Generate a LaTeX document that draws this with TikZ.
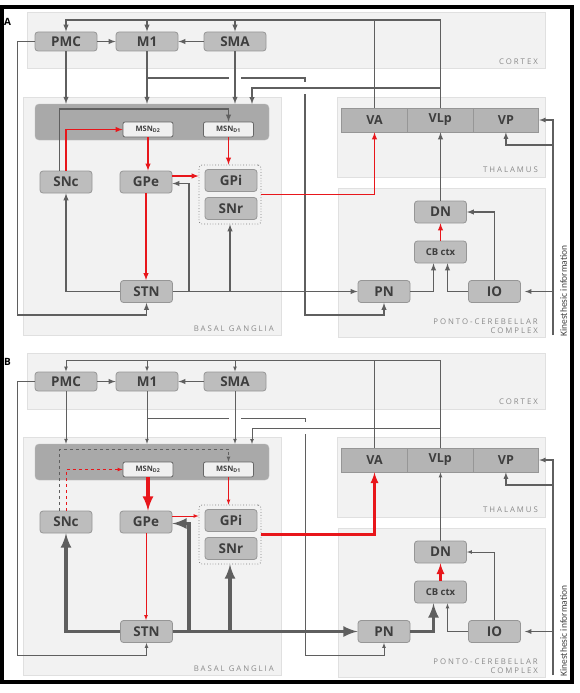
\documentclass[tikz,border=0pt]{standalone}
\usepackage{fontspec}
\setmainfont{Open Sans}
\newfontfamily\kinfont{Carlito}
\newfontfamily\regfont[LetterSpace=25]{Open Sans}
\usetikzlibrary{arrows}

\definecolor{linegray}{HTML}{5F5F5F}
\definecolor{nucred}{HTML}{E8161B}
\definecolor{nucfill}{HTML}{BDBDBD}
\definecolor{nucdraw}{HTML}{969696}
\definecolor{thalfill}{HTML}{B4B4B4}
\definecolor{regfill}{HTML}{F2F2F2}
\definecolor{regdraw}{HTML}{E0E0E0}
\definecolor{strfill}{HTML}{A9A9A9}
\definecolor{txtgray}{HTML}{3E3E3E}
\definecolor{labgray}{HTML}{8A8A8A}

\tikzset{
	nucleus/.style={rectangle, rounded corners=3pt, fill=nucfill, draw=nucdraw,
		line width=0.8pt, minimum width=52pt, minimum height=22pt, inner sep=0pt,
		text=txtgray, font=\fontsize{13.5}{14}\selectfont\bfseries},
	thal/.style={nucleus, rounded corners=0pt, fill=thalfill, minimum width=65.7pt,
		minimum height=24pt, font=\fontsize{12.5}{13}\selectfont\bfseries},
	msn/.style={rectangle, rounded corners=2pt, fill=gray!12, draw=gray!80!black,
		line width=0.8pt, minimum width=50pt, minimum height=15pt, inner sep=0pt,
		text=txtgray, font=\fontsize{7.5}{8}\selectfont\bfseries},
	region/.style={fill=regfill, draw=regdraw, line width=1pt},
	regionlabel/.style={anchor=east, text=labgray, inner sep=0pt,
		font=\regfont\fontsize{7.8}{8.5}\selectfont},
	gline/.style={draw=linegray, ->},
	rline/.style={draw=nucred, ->},
}

\begin{document}
\begin{tikzpicture}[x=1pt, y=-1pt, >=latex]

\useasboundingbox (0,0) rectangle (579,693);

\foreach \pan/\dy/\wlo/\whi/\wva/\dopa in {A/0/1.4/1.4/1.4/solid, B/340/0.7/3.8/2.6/dashed}{
\begin{scope}[shift={(0,\dy)}]

% regions
\draw[region] (27,13) rectangle (545,69);
\draw[region] (23,97) rectangle (281,335);
\draw[region] (337,97) rectangle (545,177);
\draw[region] (338,188) rectangle (545,337);
\node[regionlabel] at (538,62) {CORTEX};
\node[regionlabel] at (274,329) {BASAL GANGLIA};
\node[regionlabel] at (538,170) {THALAMUS};
\node[regionlabel, align=right] at (538,326) {PONTO-CEREBELLAR\\COMPLEX};

\node[font=\fontsize{10}{12}\selectfont\bfseries] at (7.5,22) {\pan};

% nuclei
\node[nucleus, minimum width=62pt, minimum height=19pt] (pmc\pan) at (66,41.5) {PMC};
\node[nucleus, minimum width=62pt, minimum height=19pt] (m1\pan) at (147,41.5) {M1};
\node[nucleus, minimum width=62pt, minimum height=19pt] (sma\pan) at (235,41.5) {SMA};

\node[rectangle, rounded corners=4pt, fill=strfill, draw=gray!55, minimum width=234pt,
	minimum height=36pt] (str\pan) at (152,122) {};
\node[msn] (dtwo\pan) at (148,129.5) {MSN\textsubscript{D2}};
\node[msn] (done\pan) at (228.5,129.5) {MSN\textsubscript{D1}};

\node[nucleus] (snc\pan) at (66,182) {SNc};
\node[nucleus] (gpe\pan) at (146,182) {GPe};
\node[draw=gray, dotted, line width=0.8pt, rounded corners=3pt, minimum width=62pt,
	minimum height=59pt] (out\pan) at (230,194.5) {};
\node[nucleus] (gpi\pan) at (231,180.5) {GPi};
\node[nucleus] (snr\pan) at (231,208.5) {SNr};
\node[nucleus] (stn\pan) at (146.5,291.5) {STN};

\node[thal] (va\pan) at (374.5,120) {VA};
\node[thal] (vlp\pan) at (440.2,120) {VLp};
\node[thal] (vp\pan) at (505.9,120) {VP};

\node[nucleus] (dn\pan) at (440.5,212) {DN};
\node[nucleus, font=\fontsize{9.5}{10}\selectfont\bfseries] (cb\pan) at (440.5,252) {CB ctx};
\node[nucleus] (pn\pan) at (384,291.5) {PN};
\node[nucleus] (io\pan) at (494.5,291.5) {IO};

\coordinate (top\pan) at (0,20);
\coordinate (cx\pan) at (0,78);
\coordinate (th\pan) at (0,88);
\coordinate (sd\pan) at (0,109);
\coordinate (sa\pan) at (252,104);
\coordinate (vk\pan) at (0,145);
\coordinate (hy\pan) at (0,315);
\coordinate (kin\pan) at (553,335);

% cortex
\draw[gline, line width=1.4pt] (pmc\pan.east) -- (m1\pan.west);
\draw[gline, line width=1.4pt] (sma\pan.west) -- (m1\pan.east);
\draw[gline, line width=\wlo pt] (m1\pan.south |- cx\pan) -- ++(158,0)
	|- (pn\pan.south |- hy\pan) -- (pn\pan.south);
\fill[white] (229,75) rectangle (241,81);
\fill[white] (301,82) rectangle (309,94);
\foreach \n in {pmc,m1,sma}
	\draw[gline, line width=\wlo pt] (\n\pan.south) -- (\n\pan.south |- str\pan.north);

% thalamus to cortex and striatum
\draw[gline, line width=\wlo pt] (vlp\pan.north) -- (vlp\pan.north |- top\pan) -| (pmc\pan.north);
\draw[gline, line width=\wlo pt] (m1\pan.north |- top\pan) -- (m1\pan.north);
\draw[gline, line width=\wlo pt] (sma\pan.north |- top\pan) -- (sma\pan.north);
\draw[draw=linegray, line width=\wlo pt] (va\pan.north) -- (va\pan.north |- top\pan);
\draw[gline, line width=\wlo pt] (vlp\pan.north |- th\pan) -| (sa\pan);

% basal ganglia
\draw[gline, \dopa, line width=\wlo pt] ([xshift=-6.5pt]snc\pan.north) |- (done\pan.north |- sd\pan)
	-- (done\pan.north);
\draw[rline, \dopa, line width=\wlo pt] (snc\pan.north) |- (dtwo\pan.west);
\draw[rline, line width=\whi pt] (dtwo\pan.south) -- (dtwo\pan.south |- gpe\pan.north);
\draw[rline, line width=\wlo pt] (done\pan.south) -- (done\pan.south |- out\pan.north);
\draw[rline, line width=\wlo pt] ([yshift=6pt]gpe\pan.east) -- ([yshift=6pt]gpe\pan.east -| out\pan.west);
\draw[rline, line width=\wlo pt] (gpe\pan.south) -- (gpe\pan.south |- stn\pan.north);
\draw[gline, line width=\whi pt] (stn\pan.west) -| (snc\pan.south);
\draw[gline, line width=\whi pt] (stn\pan.east) -- ++(16,0) |- ([yshift=-1.5pt]gpe\pan.east);
\draw[gline, line width=\whi pt] (stn\pan.east -| out\pan.south) -- (out\pan.south);
\draw[gline, line width=\whi pt] (stn\pan.east) -- (pn\pan.west);
\draw[gline, line width=\wlo pt] (pmc\pan.west) -- ++(-17,0) |- (stn\pan.south |- hy\pan)
	-- (stn\pan.south);
\draw[rline, line width=\wva pt] (out\pan.east) -| (va\pan.south);

% ponto-cerebellar
\draw[gline, line width=\wlo pt] (dn\pan.north) -- (dn\pan.north |- vlp\pan.south);
\draw[rline, line width=\wva pt] (cb\pan.north) -- (dn\pan.south);
\draw[gline, line width=\whi pt] (pn\pan.east) -| ([xshift=-7pt]cb\pan.south);
\draw[gline, line width=\wlo pt] (io\pan.west) -| ([xshift=7pt]cb\pan.south);
\draw[gline, line width=\wlo pt] (io\pan.north) |- (dn\pan.east);

% kinesthesic input
\draw[gline, line width=1.2pt] (kin\pan) |- (vp\pan.east);
\draw[gline, line width=1.2pt] (kin\pan |- vk\pan) -| (vp\pan.south);
\draw[gline, line width=1.2pt] (kin\pan |- io\pan.east) -- ([xshift=4pt]io\pan.east);
\node[rotate=90, text=txtgray, font=\kinfont\fontsize{9.5}{10}\selectfont] at (563.5,291) {Kinesthesic information};

\end{scope}
}

\draw[line width=4pt] (2,7) rectangle (572,682);

\end{tikzpicture}
\end{document}
